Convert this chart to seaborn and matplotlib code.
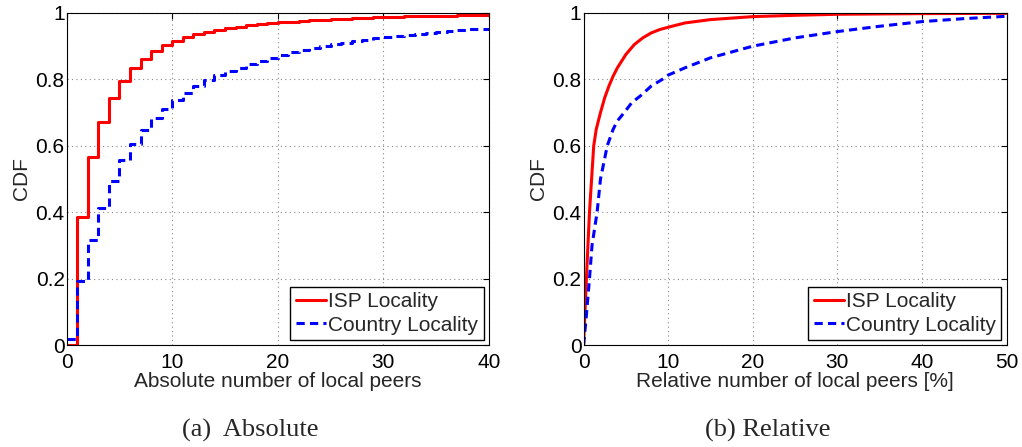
import numpy as np
import pandas as pd
import matplotlib
matplotlib.use("Agg")
import matplotlib.pyplot as plt
import seaborn as sns

# ---------------- data ----------------
abs_x = list(range(0, 41))
abs_isp = [0.0, 0.386, 0.566, 0.672, 0.745, 0.795, 0.834, 0.862, 0.886, 0.904,
           0.917, 0.929, 0.937, 0.944, 0.950, 0.955, 0.959, 0.963, 0.966, 0.969,
           0.972, 0.974, 0.976, 0.978, 0.980, 0.982, 0.983, 0.985, 0.986, 0.987,
           0.988, 0.989, 0.990, 0.991, 0.991, 0.992, 0.992, 0.993, 0.993, 0.994,
           0.994]
abs_country = [0.017, 0.193, 0.316, 0.414, 0.494, 0.557, 0.605, 0.648, 0.683, 0.711,
               0.738, 0.760, 0.780, 0.798, 0.812, 0.824, 0.835, 0.846, 0.856, 0.865,
               0.873, 0.881, 0.888, 0.895, 0.901, 0.906, 0.911, 0.916, 0.920, 0.925,
               0.929, 0.932, 0.935, 0.938, 0.941, 0.944, 0.946, 0.949, 0.951, 0.953,
               0.956]

rel_isp_x = [0, 0.3, 0.7, 1.2, 1.5, 2, 2.5, 3, 3.5, 4, 5, 6, 7, 8, 9, 10, 12, 15,
             20, 25, 30, 40, 50]
rel_isp_y = [0, 0.18, 0.4, 0.6, 0.65, 0.7, 0.745, 0.78, 0.81, 0.835, 0.875, 0.905,
             0.925, 0.94, 0.95, 0.957, 0.97, 0.98, 0.989, 0.993, 0.996, 0.998, 0.999]
rel_country_x = [0, 0.3, 0.7, 1.0, 1.6, 2.0, 2.4, 2.8, 3.5, 4.0, 4.8, 5.7, 6.7, 8.0,
                 9.3, 10, 12, 15, 20, 25, 30, 35, 40, 45, 50]
rel_country_y = [0.0, 0.08, 0.2, 0.3, 0.4, 0.5, 0.55, 0.6, 0.65, 0.675, 0.7, 0.73,
                 0.75, 0.78, 0.8, 0.813, 0.835, 0.865, 0.9, 0.925, 0.944, 0.96,
                 0.974, 0.983, 0.99]

labels = ["ISP Locality", "Country Locality"]
xlabels = ["Absolute number of local peers", "Relative number of local peers [%]"]
captions = ["(a)  Absolute", "(b) Relative"]
xlims = [40, 50]

# ---------------- style ----------------
sns.set_theme(style="white")
plt.rcParams["font.family"] = ["Liberation Sans", "DejaVu Sans"]
plt.rcParams["xtick.direction"] = "in"
plt.rcParams["ytick.direction"] = "in"

fig = plt.figure(figsize=(10.22, 4.47), dpi=100)
ax1 = fig.add_axes([0.0653, 0.228, 0.413, 0.743])
ax2 = fig.add_axes([0.571, 0.228, 0.414, 0.743])

red = "#ff0000"
blue = "#0000ff"
dash = (0, (2.7, 1.7))
fs = 15

sns.lineplot(x=abs_x, y=abs_isp, ax=ax1, color=red, linewidth=2.2,
             drawstyle="steps-post", label=labels[0])
sns.lineplot(x=abs_x, y=abs_country, ax=ax1, color=blue, linewidth=2.2,
             drawstyle="steps-post", linestyle=dash, label=labels[1])

sns.lineplot(x=rel_isp_x, y=rel_isp_y, ax=ax2, color=red, linewidth=2.2,
             label=labels[0])
sns.lineplot(x=rel_country_x, y=rel_country_y, ax=ax2, color=blue, linewidth=2.2,
             linestyle=dash, label=labels[1])

for i, ax in enumerate([ax1, ax2]):
    ax.set_xlim(0, xlims[i])
    ax.set_ylim(0, 1)
    ax.set_xticks(np.arange(0, xlims[i] + 1, 10))
    ax.set_yticks([0, 0.2, 0.4, 0.6, 0.8, 1])
    ax.set_yticklabels(["0", "0.2", "0.4", "0.6", "0.8", "1"])
    ax.tick_params(axis="both", labelsize=fs, length=4, width=0.8,
                   top=True, right=True, colors="black")
    ax.tick_params(axis="x", pad=5.5)
    ax.tick_params(axis="y", pad=1.5)
    ax.grid(True, linestyle=(0, (1, 3)), color="#888888", linewidth=0.8)
    for sp in ax.spines.values():
        sp.set_color("black")
        sp.set_linewidth(0.8)
        sp.set_visible(True)
    ax.set_xlabel(xlabels[i], fontsize=fs, labelpad=0)
    ax.set_ylabel("CDF", fontsize=fs, labelpad=3)
    leg = ax.legend(loc="lower right", fontsize=fs, frameon=True, fancybox=False,
                    handlelength=1.45, handletextpad=0.12, borderpad=0.25,
                    labelspacing=0.22, borderaxespad=0.25)
    leg.get_frame().set_edgecolor("black")
    leg.get_frame().set_linewidth(1.0)
    leg.get_frame().set_alpha(1)

fig.text(0.245, 0.038, captions[0], ha="center", va="center", fontsize=19,
         family=["Liberation Serif", "DejaVu Serif"])
fig.text(0.751, 0.038, captions[1], ha="center", va="center", fontsize=19,
         family=["Liberation Serif", "DejaVu Serif"])

fig.savefig("out.png", dpi=100)
